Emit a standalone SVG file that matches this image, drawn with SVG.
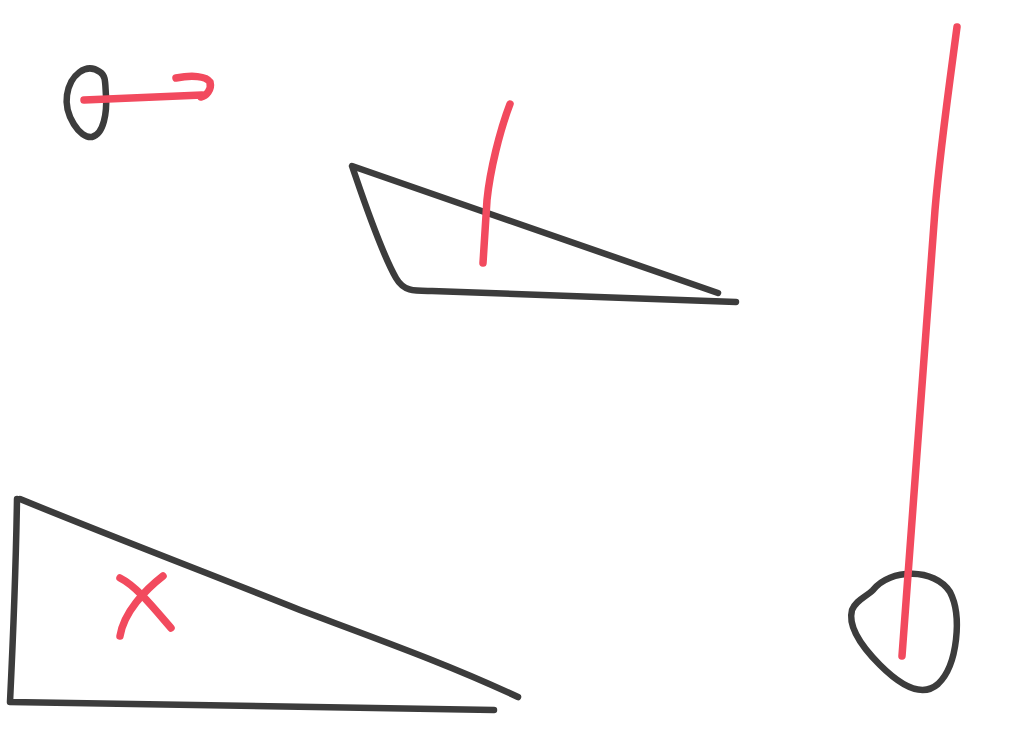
<svg xmlns="http://www.w3.org/2000/svg" width="1027" height="745" viewBox="0 0 1027 745">
<style>
.k{fill:none;stroke:#3c3c3c;stroke-width:6.5;stroke-linecap:round;stroke-linejoin:round}
.r{fill:none;stroke:#f24a5e;stroke-width:7.5;stroke-linecap:round;stroke-linejoin:round}
</style>
<rect width="1027" height="745" fill="#ffffff"/>
<g id="small-oval">
<path class="k" d="M100,72 C86,62 70,75 67,95 C64,115 80,139 92,137 C104,134 107,112 106,96 C105,82 106,76 100,72 Z"/>
</g>
<g id="middle-wedge">
<path class="k" d="M718,293 L352,166 C362,195 380,250 396,278 C404,292 415,291 432,291 L736,302"/>
</g>
<g id="bottom-wedge">
<path class="k" d="M17,499 C16,560 13,640 10,702 L494,710"/>
<path class="k" d="M20,499 C120,540 200,570 300,610 C380,640 450,665 518,697"/>
<path class="r" d="M120,578 C136,586 152,606 171,628"/>
<path class="r" d="M163,576 C145,590 124,612 120,636"/>
</g>
<g id="right-circle">
<path class="k" d="M873,590 C890,568 935,568 950,592 C962,615 958,665 938,684 C922,698 900,685 880,665 C860,645 848,625 852,610 C856,600 866,597 873,590 Z"/>
</g>
<g id="connectors">
<path class="r" d="M84,100 L202,95"/>
<path class="r" d="M176,78 C192,75 206,76 210,82 C212,90 206,96 201,97"/>
<path class="r" d="M510,104 C500,130 490,170 487,200 L483,263"/>
<path class="r" d="M957,27 C950,80 940,150 935,210 L902,656"/>
</g>
</svg>
